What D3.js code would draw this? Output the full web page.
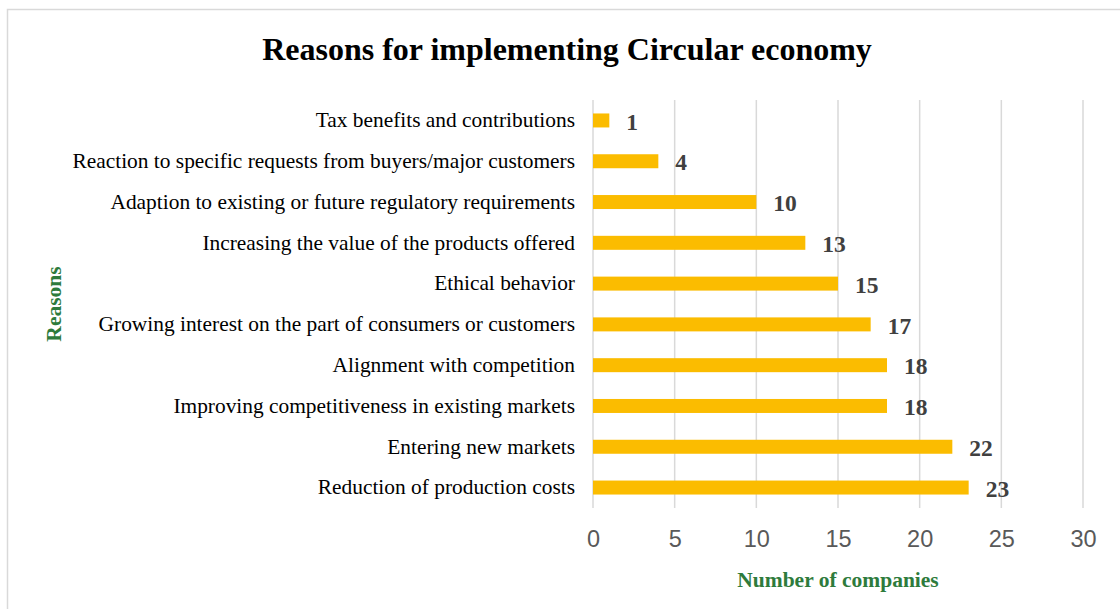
<!DOCTYPE html>
<html>
<head>
<meta charset="utf-8">
<script src="https://cdn.jsdelivr.net/npm/d3@7"></script>
<style>
  body { margin: 0; background: #fff; }
  svg { display: block; }
</style>
</head>
<body>
<script>
var width = 1120,
    height = 609;

// data, top to bottom as shown
var reasons = [
  "Tax benefits and contributions",
  "Reaction to specific requests from buyers/major customers",
  "Adaption to existing or future regulatory requirements",
  "Increasing the value of the products offered",
  "Ethical behavior",
  "Growing interest on the part of consumers or customers",
  "Alignment with competition",
  "Improving competitiveness in existing markets",
  "Entering new markets",
  "Reduction of production costs"
];
var companies = [1, 4, 10, 13, 15, 17, 18, 18, 22, 23];
var xTicks = [0, 5, 10, 15, 20, 25, 30];

var serif = "'Liberation Serif', 'Times New Roman', serif";
var sans = "'Liberation Sans', Arial, sans-serif";
var green = "#2E7B3C";

var margin = {top: 100, right: 37, bottom: 101, left: 593};

var svg = d3.select("body").append("svg")
    .attr("width", width)
    .attr("height", height);

// chart border
svg.append("rect")
    .attr("x", 7.5).attr("y", 9.5)
    .attr("width", 1200).attr("height", 700)
    .attr("fill", "none")
    .attr("stroke", "#d9d9d9")
    .attr("stroke-width", 1.5);

var x = d3.scaleLinear()
    .domain([0, 30])
    .range([margin.left, width - margin.right]);

var y = d3.scaleBand()
    .domain(reasons)
    .range([margin.top, height - margin.bottom])
    .paddingInner(0.657)
    .paddingOuter(0.33);

// gridlines
svg.append("g")
  .selectAll("line")
  .data(xTicks)
  .enter()
  .append("line")
    .attr("x1", function(d) { return x(d); })
    .attr("x2", function(d) { return x(d); })
    .attr("y1", margin.top)
    .attr("y2", height - margin.bottom)
    .attr("stroke", "#d9d9d9")
    .attr("stroke-width", 1.5);

// x axis labels
var xAxis = d3.axisBottom(x)
    .tickValues(xTicks)
    .tickSize(0)
    .tickPadding(22);

var gx = svg.append("g")
    .attr("transform", "translate(0," + (height - margin.bottom) + ")")
    .call(xAxis);
gx.select(".domain").remove();
gx.selectAll("text")
    .attr("font-family", sans)
    .attr("font-size", 23.5)
    .attr("fill", "#595959");

// y axis labels
var yAxis = d3.axisLeft(y)
    .tickSize(0)
    .tickPadding(18);

var gy = svg.append("g")
    .attr("transform", "translate(" + margin.left + ",0)")
    .call(yAxis);
gy.select(".domain").remove();
gy.selectAll("text")
    .attr("font-family", serif)
    .attr("font-size", 21.4)
    .attr("fill", "#000");

// bars
svg.append("g")
  .selectAll("rect")
  .data(companies)
  .enter()
  .append("rect")
    .attr("x", x(0))
    .attr("y", function(d, i) { return y(reasons[i]); })
    .attr("width", function(d) { return x(d) - x(0); })
    .attr("height", y.bandwidth())
    .attr("fill", "#FBBC00");

// value labels
svg.append("g")
  .selectAll("text")
  .data(companies)
  .enter()
  .append("text")
    .attr("x", function(d) { return x(d) + 17; })
    .attr("y", function(d, i) { return y(reasons[i]) + y.bandwidth() / 2 + 1; })
    .attr("dy", "0.35em")
    .attr("font-family", serif)
    .attr("font-weight", "bold")
    .attr("font-size", 23.5)
    .attr("fill", "#404040")
    .text(function(d) { return d; });

// title
svg.append("text")
    .attr("x", 567)
    .attr("y", 60)
    .attr("text-anchor", "middle")
    .attr("font-family", serif)
    .attr("font-weight", "bold")
    .attr("font-size", 32)
    .attr("fill", "#000")
    .text("Reasons for implementing Circular economy");

// axis titles
svg.append("text")
    .attr("x", (x(0) + x(30)) / 2)
    .attr("y", 587)
    .attr("text-anchor", "middle")
    .attr("font-family", serif)
    .attr("font-weight", "bold")
    .attr("font-size", 21.5)
    .attr("fill", green)
    .text("Number of companies");

svg.append("text")
    .attr("transform", "translate(61," + ((margin.top + height - margin.bottom) / 2) + ") rotate(-90)")
    .attr("text-anchor", "middle")
    .attr("font-family", serif)
    .attr("font-weight", "bold")
    .attr("font-size", 21.5)
    .attr("fill", green)
    .text("Reasons");
</script>
</body>
</html>
